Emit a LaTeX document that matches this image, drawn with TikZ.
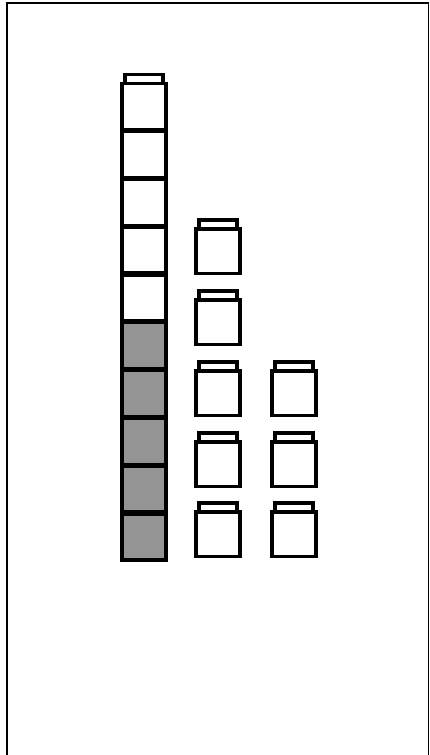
\documentclass[tikz,border=0pt]{standalone}
\begin{document}
\begin{tikzpicture}[x=1pt,y=-1pt,
  body/.style={draw=black,line width=3.6pt,minimum width=44.5pt,minimum height=44.5pt,inner sep=0pt,outer sep=0pt,anchor=north,fill=white},
  shaded/.style={body,fill=black!42},
  lidbox/.style={draw=black,line width=3.2pt,minimum width=38pt,minimum height=9pt,inner sep=0pt,outer sep=0pt,anchor=south,fill=white},
  frame/.style={draw=black,line width=1.8pt}]
\useasboundingbox (0,0) rectangle (430,755);
% frame
\coordinate (fbl) at (7,755);
\coordinate (ftl) at (7,3);
\coordinate (ftr) at (428.5,3);
\coordinate (fbr) at (428.5,755);
\draw[frame] (fbl) -- (ftl) -- (ftr) -- (fbr);
% column 1: tall stack of ten cubes
\foreach \i in {0,...,4}{
  \node[body,minimum height=46.3pt] (a\i) at (144,{83.5+47.8*\i}) {};
}
\foreach \i in {5,...,9}{
  \node[shaded,minimum height=46.3pt] (a\i) at (144,{83.5+47.8*\i}) {};
}
\node[lidbox] (alid) at (a0.north) {};
% column 2: five single cubes
\foreach \t [count=\i] in {229,300,371,442,512}{
  \node[body] (b\i) at (218,\t) {};
  \node[lidbox] (bl\i) at (b\i.north) {};
}
% column 3: three single cubes
\foreach \t [count=\i] in {371,442,512}{
  \node[body] (c\i) at (294,\t) {};
  \node[lidbox] (cl\i) at (c\i.north) {};
}
\end{tikzpicture}
\end{document}
